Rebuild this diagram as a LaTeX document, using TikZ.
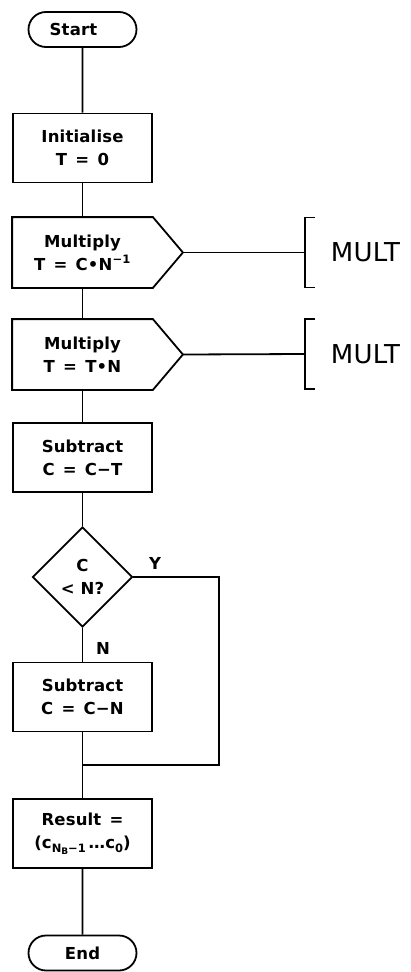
\documentclass[tikz,border=0pt]{standalone}
\usepackage{fontspec}
\setmainfont{DejaVu Sans}[LetterSpace=1]
\usetikzlibrary{shapes.geometric,shapes.misc}
\newcommand\boxfont{\fontsize{16.5}{23}\selectfont\bfseries}
\newcommand\bigfont{\fontsize{26}{30}\selectfont}
\newcommand\subtxt[1]{\raisebox{-3.5pt}{\fontsize{11.5}{11.5}\selectfont #1}}
\newcommand\subsubtxt[1]{\raisebox{-2pt}{\fontsize{9}{9}\selectfont #1}}
\begin{document}
\begin{tikzpicture}[x=1pt,y=-1pt,line width=1.8pt,
  box/.style={draw,minimum width=139pt,minimum height=69pt,align=center,inner sep=0pt,font=\boxfont},
  sigbox/.style={minimum width=139pt,minimum height=69pt,align=center,inner sep=0pt,font=\boxfont},
  term/.style={draw,rounded rectangle,minimum width=108pt,minimum height=35pt,inner sep=0pt,font=\boxfont},
  decision/.style={draw,diamond,minimum width=100pt,minimum height=100pt,inner sep=0pt,align=center,font=\boxfont},
  lbl/.style={font=\boxfont,inner sep=0pt},
  multlbl/.style={font=\bigfont,inner sep=0pt,anchor=west}]
\useasboundingbox (0,0) rectangle (410,972);

\node[term] (start) at (82.5,29.5) {Start\hspace*{18pt}};
\node[box] (init) at (82.5,148) {Initialise\\T\enspace=\enspace0};
\node[sigbox] (mul1) at (82.5,252.5) {Multiply\\T\enspace=\enspace C•N\textsuperscript{−1}};
\node[sigbox] (mul2) at (82.5,354.5) {Multiply\\T\enspace=\enspace T•N};
\node[box] (sub1) at (82.5,457.5) {Subtract\\C\enspace=\enspace C−T};
\node[decision] (dec) at (82.5,577) {C\\< N?};
\node[box] (sub2) at (82.5,697) {Subtract\\C\enspace=\enspace C−N};
\node[box] (res) at (82.5,833.5) {Result\enspace=\\(c\subtxt{N\subsubtxt{B}−1}\,…c\subtxt{0})};
\node[term] (end) at (82.5,953) {End};

% signal-shaped outlines
\coordinate (m1tip) at ([xshift=30pt]mul1.east);
\coordinate (m2tip) at ([xshift=30pt]mul2.east);
\draw (mul1.north east) -- (m1tip) -- (mul1.south east) -- (mul1.south west) -- (mul1.north west) -- cycle;
\draw (mul2.north east) -- (m2tip) -- (mul2.south east) -- (mul2.south west) -- (mul2.north west) -- cycle;

% brackets
\coordinate (b1) at (305,252.5);
\coordinate (b2) at (305,354);
\draw (m1tip) -- (b1);
\draw (m2tip) -- (b2);
\draw ([shift={(10,-35)}]b1) -- ([shift={(0,-35)}]b1) -- ([shift={(0,35)}]b1) -- ([shift={(10,35)}]b1);
\draw ([shift={(10,-35)}]b2) -- ([shift={(0,-35)}]b2) -- ([shift={(0,35)}]b2) -- ([shift={(10,35)}]b2);
\node[multlbl] (mult1) at (330,252.5) {MULT};
\node[multlbl] (mult2) at (330,354) {MULT};

% main flow
\draw (start) -- (init);
\draw (init) -- (mul1);
\draw (mul1) -- (mul2);
\draw (mul2) -- (sub1);
\draw (sub1) -- (dec);
\draw (dec) -- (sub2);
\draw (sub2) -- (res);
\draw (res) -- (end);

% Y loop
\coordinate (loopc) at (219,765);
\coordinate (merge) at (82.5,765);
\draw (dec.east) -| (loopc) -- (merge);
\node[lbl] (ylbl) at (155,563) {Y};
\node[lbl] (nlbl) at (103,648) {N};
\end{tikzpicture}
\end{document}
